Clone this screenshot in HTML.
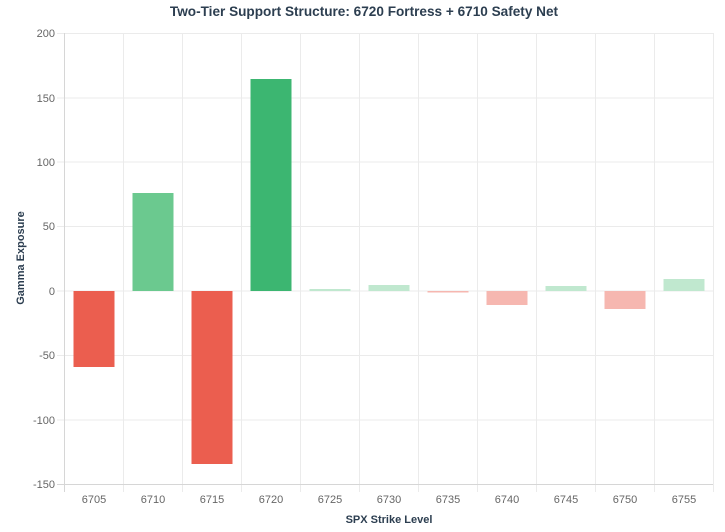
<!DOCTYPE html>
<html><head><meta charset="utf-8"><style>body{margin:0;background:#fff}svg{display:block;font-family:"Liberation Sans",Arial,sans-serif}</style></head>
<body>
<svg width="725" height="532" xmlns="http://www.w3.org/2000/svg">
<text x="364" y="16" text-anchor="middle" font-size="13.6" font-weight="bold" fill="#2c3e50">Two-Tier Support Structure: 6720 Fortress + 6710 Safety Net</text>
<g stroke="#ebebeb" stroke-width="1">
<line x1="57" y1="33.5" x2="713" y2="33.5"/>
<line x1="57" y1="98" x2="713" y2="98"/>
<line x1="57" y1="162" x2="713" y2="162"/>
<line x1="57" y1="226.5" x2="713" y2="226.5"/>
<line x1="57" y1="291" x2="713" y2="291"/>
<line x1="57" y1="355.5" x2="713" y2="355.5"/>
<line x1="57" y1="420" x2="713" y2="420"/>
<line x1="123.5" y1="33" x2="123.5" y2="492"/>
<line x1="182.5" y1="33" x2="182.5" y2="492"/>
<line x1="241.5" y1="33" x2="241.5" y2="492"/>
<line x1="300.5" y1="33" x2="300.5" y2="492"/>
<line x1="359.5" y1="33" x2="359.5" y2="492"/>
<line x1="418.5" y1="33" x2="418.5" y2="492"/>
<line x1="477.5" y1="33" x2="477.5" y2="492"/>
<line x1="536.5" y1="33" x2="536.5" y2="492"/>
<line x1="595.5" y1="33" x2="595.5" y2="492"/>
<line x1="654.5" y1="33" x2="654.5" y2="492"/>
<line x1="713.5" y1="33" x2="713.5" y2="492"/>
</g>
<g stroke="#d6d6d6"><line x1="64.5" y1="33" x2="64.5" y2="492"/><line x1="57" y1="484.5" x2="713" y2="484.5"/></g>
<g font-size="11" fill="#666" text-anchor="end">
<text x="55" y="37">200</text><text x="55" y="102">150</text><text x="55" y="166">100</text><text x="55" y="230">50</text><text x="55" y="295">0</text><text x="55" y="359">-50</text><text x="55" y="424">-100</text><text x="55" y="488">-150</text>
</g>
<g font-size="11" fill="#666" text-anchor="middle">
<text x="94" y="503">6705</text><text x="153" y="503">6710</text><text x="212" y="503">6715</text><text x="271" y="503">6720</text><text x="330" y="503">6725</text><text x="389" y="503">6730</text><text x="448" y="503">6735</text><text x="507" y="503">6740</text><text x="566" y="503">6745</text><text x="625" y="503">6750</text><text x="684" y="503">6755</text>
</g>
<text x="389" y="523" text-anchor="middle" font-size="11" font-weight="bold" fill="#2c3e50">SPX Strike Level</text>
<text transform="translate(24,258) rotate(-90)" text-anchor="middle" font-size="11" font-weight="bold" fill="#2c3e50">Gamma Exposure</text>
<rect x="73.5" y="291" width="41" height="76" fill="#eb5e4f"/>
<rect x="132.5" y="193" width="41" height="98" fill="#6bc98f"/>
<rect x="191.5" y="291" width="41" height="173" fill="#eb5e4f"/>
<rect x="250.5" y="79" width="41" height="212" fill="#3cb671"/>
<rect x="309.5" y="289" width="41" height="2" fill="#c0e8cf"/>
<rect x="368.5" y="285" width="41" height="6" fill="#c0e8cf"/>
<rect x="427.5" y="291" width="41" height="1.5" fill="#f6b7b0"/>
<rect x="486.5" y="291" width="41" height="14" fill="#f6b7b0"/>
<rect x="545.5" y="286" width="41" height="5" fill="#c0e8cf"/>
<rect x="604.5" y="291" width="41" height="18" fill="#f6b7b0"/>
<rect x="663.5" y="279" width="41" height="12" fill="#c0e8cf"/>
</svg>
</body></html>
